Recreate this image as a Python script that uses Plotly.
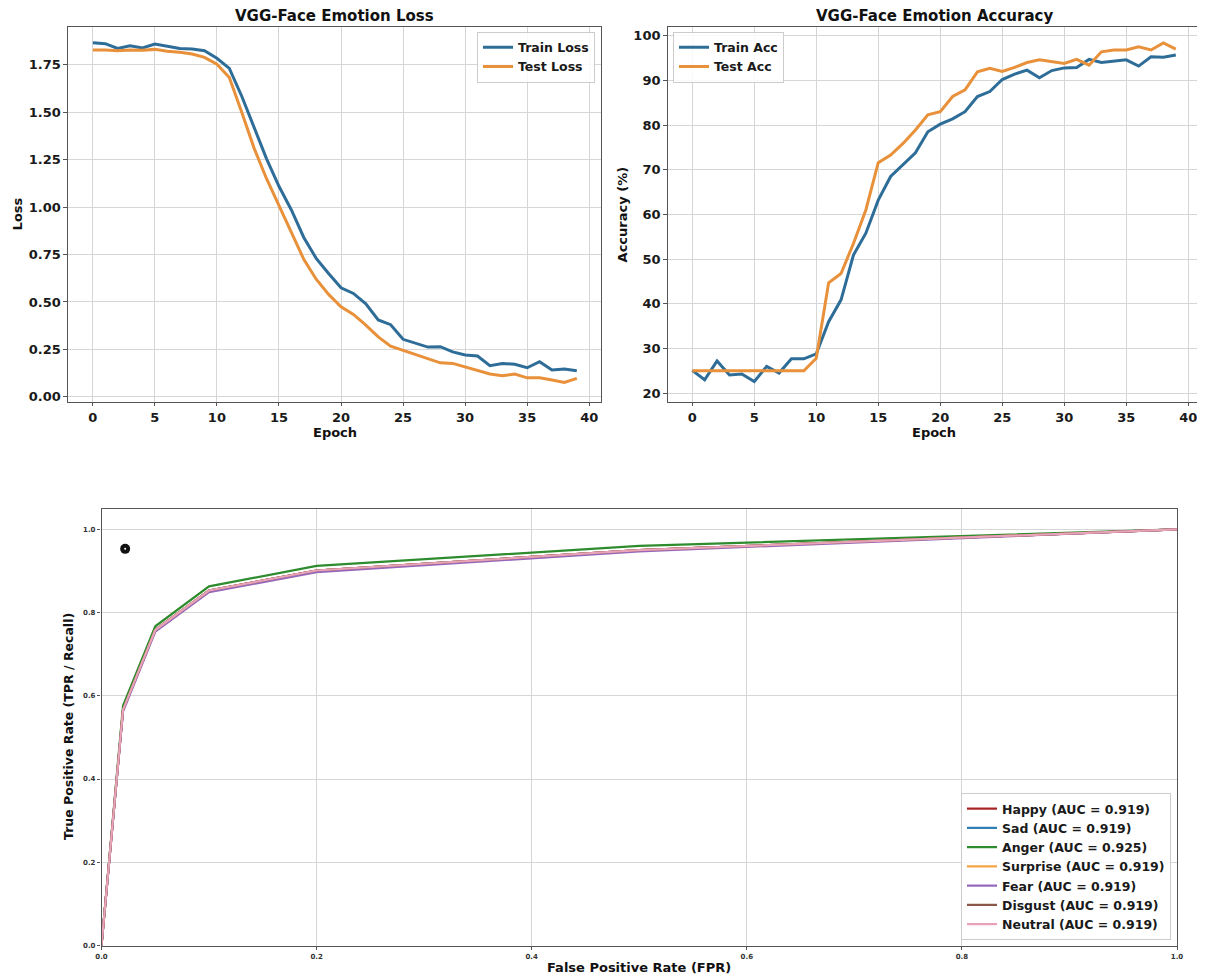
import plotly.graph_objects as go

# page body has an 8px margin, so the figure is drawn 8px smaller and offset
OFF = 8
W, H = 1205 - OFF, 976 - OFF

# ---------------- data ----------------
epochs = list(range(40))

train_loss = [1.867, 1.862, 1.837, 1.851, 1.840, 1.860, 1.848, 1.837, 1.834, 1.825,
              1.785, 1.732, 1.585, 1.420, 1.255, 1.110, 0.985, 0.840, 0.730, 0.650,
              0.575, 0.545, 0.490, 0.405, 0.380, 0.303, 0.282, 0.262, 0.264, 0.237,
              0.220, 0.215, 0.164, 0.176, 0.171, 0.153, 0.185, 0.141, 0.146, 0.137]
test_loss = [1.829, 1.829, 1.825, 1.829, 1.827, 1.832, 1.822, 1.817, 1.808, 1.790,
             1.754, 1.684, 1.500, 1.310, 1.150, 1.010, 0.865, 0.725, 0.620, 0.540,
             0.475, 0.434, 0.378, 0.316, 0.267, 0.246, 0.225, 0.202, 0.179, 0.176,
             0.158, 0.141, 0.120, 0.111, 0.120, 0.100, 0.100, 0.088, 0.076, 0.097]

train_acc = [25.1, 23.0, 27.2, 24.1, 24.3, 22.6, 26.0, 24.5, 27.7, 27.7,
             28.8, 36.0, 40.9, 50.9, 55.8, 63.2, 68.5, 71.1, 73.8, 78.5,
             80.2, 81.4, 83.0, 86.4, 87.5, 90.2, 91.4, 92.3, 90.6, 92.2,
             92.8, 92.9, 94.7, 94.0, 94.3, 94.6, 93.2, 95.3, 95.2, 95.7]
test_acc = [25.0, 25.0, 25.0, 25.0, 25.0, 25.0, 25.0, 25.0, 25.0, 25.0,
            27.8, 44.7, 46.8, 53.5, 61.0, 71.6, 73.3, 75.9, 78.9, 82.3,
            83.0, 86.4, 87.9, 91.9, 92.7, 92.0, 92.9, 94.0, 94.6, 94.2,
            93.8, 94.7, 93.4, 96.4, 96.8, 96.8, 97.5, 96.8, 98.4, 97.0]

roc_fpr = [0.0, 0.02, 0.05, 0.10, 0.20, 0.50, 1.0]
roc_classes = ["Happy", "Sad", "Anger", "Surprise", "Fear", "Disgust", "Neutral"]
roc_auc = [0.919, 0.919, 0.925, 0.919, 0.919, 0.919, 0.919]
roc_tpr = {
    "Happy":    [0.0, 0.566, 0.758, 0.853, 0.901, 0.950, 1.0],
    "Sad":      [0.0, 0.566, 0.758, 0.853, 0.901, 0.950, 1.0],
    "Anger":    [0.0, 0.576, 0.767, 0.863, 0.912, 0.960, 1.0],
    "Surprise": [0.0, 0.566, 0.758, 0.853, 0.901, 0.950, 1.0],
    "Fear":     [0.0, 0.562, 0.754, 0.849, 0.897, 0.947, 1.0],
    "Disgust":  [0.0, 0.566, 0.758, 0.853, 0.901, 0.950, 1.0],
    "Neutral":  [0.0, 0.566, 0.758, 0.853, 0.901, 0.950, 1.0],
}
roc_colors = ["#a82222", "#2f7fb5", "#2e8b2e", "#f4a340", "#9467bd", "#8c564b", "#e8a3b8"]

marker_xy = [0.022, 0.953]

loss_ticks = [0.0, 0.25, 0.5, 0.75, 1.0, 1.25, 1.5, 1.75]
acc_ticks = [20, 30, 40, 50, 60, 70, 80, 90, 100]
epoch_ticks = [0, 5, 10, 15, 20, 25, 30, 35, 40]
roc_ticks = [0.0, 0.2, 0.4, 0.6, 0.8, 1.0]

BLUE = "#2e6d98"
ORANGE = "#e8913a"
FONT = "DejaVu Sans"


def px(x):
    return (x - OFF) / W


def py(y):
    return 1 - (y - OFF) / H


fig = go.Figure()

# top-left: loss
fig.add_trace(go.Scatter(x=epochs, y=train_loss, mode="lines", name="Train Loss",
                         line=dict(color=BLUE, width=3), xaxis="x", yaxis="y", legend="legend"))
fig.add_trace(go.Scatter(x=epochs, y=test_loss, mode="lines", name="Test Loss",
                         line=dict(color=ORANGE, width=3), xaxis="x", yaxis="y", legend="legend"))
# top-right: accuracy
fig.add_trace(go.Scatter(x=epochs, y=train_acc, mode="lines", name="Train Acc",
                         line=dict(color=BLUE, width=3), xaxis="x2", yaxis="y2", legend="legend2"))
fig.add_trace(go.Scatter(x=epochs, y=test_acc, mode="lines", name="Test Acc",
                         line=dict(color=ORANGE, width=3), xaxis="x2", yaxis="y2", legend="legend2"))
# bottom: ROC
for cls, auc, col in zip(roc_classes, roc_auc, roc_colors):
    fig.add_trace(go.Scatter(x=roc_fpr, y=roc_tpr[cls], mode="lines",
                             name=f"{cls} (AUC = {auc:.3f})",
                             line=dict(color=col, width=2.2), xaxis="x3", yaxis="y3",
                             legend="legend3"))
fig.add_trace(go.Scatter(x=[marker_xy[0]], y=[marker_xy[1]], mode="markers",
                         marker=dict(symbol="circle", size=10, color="#111111",
                                     line=dict(width=0)),
                         showlegend=False, hoverinfo="skip", xaxis="x3", yaxis="y3"))
fig.add_trace(go.Scatter(x=[marker_xy[0]], y=[marker_xy[1]], mode="markers",
                         marker=dict(symbol="circle", size=2, color="white",
                                     line=dict(width=0)),
                         showlegend=False, hoverinfo="skip", xaxis="x3", yaxis="y3"))

axis_common = dict(showline=True, linecolor="#555555", linewidth=1.2, mirror=True,
                   showgrid=True, gridcolor="#d6d6d6", gridwidth=1, zeroline=False,
                   ticks="outside", ticklen=3.5, tickcolor="#555555", automargin=False)

tick_font = dict(family=FONT, size=13, color="#1a1a1a", weight="bold")
small_tick_font = dict(family=FONT, size=7, color="#333333", weight="bold")
legend_common = dict(bgcolor="rgba(255,255,255,0.85)", bordercolor="#cccccc", borderwidth=1,
                     font=dict(family=FONT, size=12.5, weight="bold"), itemwidth=30,
                     tracegroupgap=0)

fig.update_layout(
    width=W, height=H,
    margin=dict(l=0, r=0, t=0, b=0),
    paper_bgcolor="white", plot_bgcolor="white",
    font=dict(family=FONT, size=13, color="#1a1a1a", weight="bold"),
    xaxis=dict(domain=[px(68), px(601)], range=[-2.0, 40.95], tickvals=epoch_ticks,
               anchor="y", tickfont=tick_font, **axis_common),
    yaxis=dict(domain=[py(401.7), py(27)], range=[-0.026, 1.95], tickvals=loss_ticks,
               tickformat=".2f", anchor="x", tickfont=tick_font, **axis_common),
    xaxis2=dict(domain=[px(667.7), px(1200)], range=[-1.98, 40.95], tickvals=epoch_ticks,
                anchor="y2", tickfont=tick_font, **axis_common),
    yaxis2=dict(domain=[py(401.7), py(27)], range=[18.1, 101.95], tickvals=acc_ticks,
                anchor="x2", tickfont=tick_font, **axis_common),
    xaxis3=dict(domain=[px(101.5), px(1177)], range=[0, 1.0], tickvals=roc_ticks,
                tickformat=".1f", anchor="y3", tickfont=small_tick_font, **axis_common),
    yaxis3=dict(domain=[py(945.5), py(508.5)], range=[0, 1.05], tickvals=roc_ticks,
                tickformat=".1f", anchor="x3", tickfont=small_tick_font, **axis_common),
    legend=dict(x=px(595), y=py(31.5), xanchor="right", yanchor="top", **legend_common),
    legend2=dict(x=px(673), y=py(31.5), xanchor="left", yanchor="top", **legend_common),
    legend3=dict(x=px(1171), y=py(940), xanchor="right", yanchor="bottom", **legend_common),
    showlegend=True,
)

annos = [
    dict(text="VGG-Face Emotion Loss", x=px(334.5), y=py(16), size=15, angle=0),
    dict(text="VGG-Face Emotion Accuracy", x=px(934), y=py(16), size=15, angle=0),
    dict(text="Loss", x=px(17), y=py(214.4), size=13, angle=-90),
    dict(text="Epoch", x=px(334.5), y=py(432), size=13, angle=0),
    dict(text="Accuracy (%)", x=px(622), y=py(214.4), size=13, angle=-90),
    dict(text="Epoch", x=px(934), y=py(432), size=13, angle=0),
    dict(text="True Positive Rate (TPR / Recall)", x=px(68), y=py(727), size=12.5, angle=-90),
    dict(text="False Positive Rate (FPR)", x=px(639), y=py(967), size=13, angle=0),
]
for a in annos:
    fig.add_annotation(text=a["text"], x=a["x"], y=a["y"], xref="paper", yref="paper",
                       xanchor="center", yanchor="middle", showarrow=False,
                       textangle=a["angle"],
                       font=dict(family=FONT, size=a["size"], color="#111111", weight="bold"))

fig.write_html("out.html")
